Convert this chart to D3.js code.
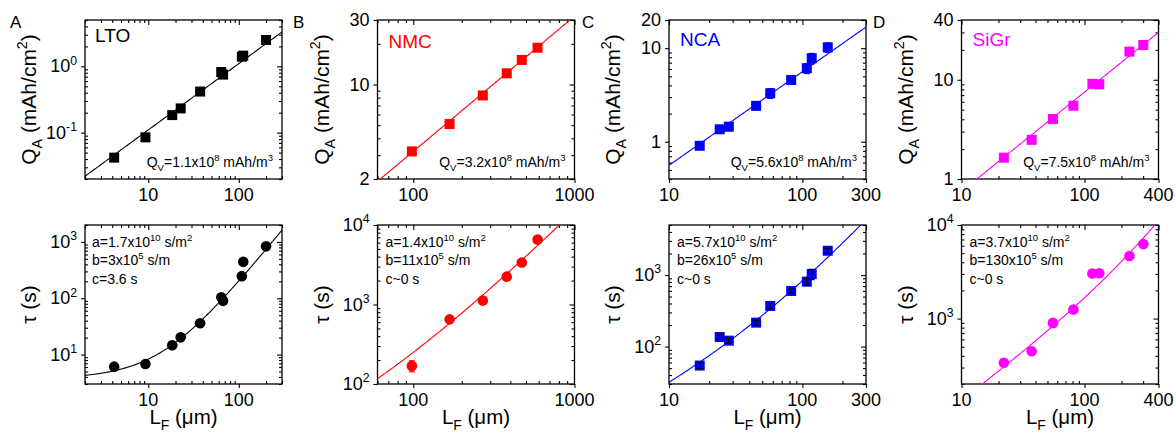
<!DOCTYPE html>
<html>
<head>
<meta charset="utf-8">
<script src="https://cdn.jsdelivr.net/npm/d3@7"></script>
<style>
  body { margin: 0; background: #fff; }
  svg { display: block; }
  text { font-family: "Liberation Sans", Arial, sans-serif; fill: #000; }
</style>
</head>
<body>
<svg id="chart" width="1176" height="434"></svg>
<script>
// ---- data ----
const materials = ["LTO", "NMC", "NCA", "SiGr"];
const letters = ["A", "B", "C", "D"];
const colors = ["#000000", "#ff0000", "#0000ff", "#ff00ff"];

// electrode thickness L_F (um)
const ltoL = [4.2, 9.3, 18.4, 22.8, 37.4, 64, 67, 108, 112, 200];
const nmcL = [98, 168, 270, 380, 471, 590];
const ncaL = [17, 24, 28.1, 45, 57.4, 82.4, 108, 117.5, 155];
const sigrL = [22.1, 37.2, 55.4, 81.3, 116, 132, 232, 301];

// areal capacity Q_A (mAh/cm2)
const ltoQ = [0.042, 0.085, 0.184, 0.232, 0.417, 0.82, 0.75, 1.40, 1.45, 2.5];
const nmcQ = [3.2, 5.1, 8.3, 12.1, 15.2, 18.7];
const ncaQ = [0.906, 1.36, 1.45, 2.42, 3.3, 4.57, 6.1, 7.8, 10.2];
const ncaQErr = [0.08, 0.13, 0.14, 0.22, 0.4, 0.45, 0.75, 1.0, 1.2];
const sigrQ = [1.64, 2.48, 4.02, 5.47, 9.1, 9.0, 19.2, 22.4];

// time constant tau (s)
const ltoTau = [6.1, 6.8, 14.6, 20.2, 36, 104, 90, 247, 443, 835];
const nmcTau = [169, 650, 1120, 2240, 3380, 6550];
const nmcTauErr = [27, 0, 0, 0, 0, 0];
const ncaTau = [54.3, 136, 121, 216, 370, 599, 807, 1032, 2183];
const ncaTauErr = [5, 10, 9, 17, 30, 40, 90, 170, 180];
const sigrTau = [337, 447, 899, 1248, 3035, 3050, 4660, 6250];

// fit parameters printed on the panels
const qvFit = [1.1e8, 3.2e8, 5.6e8, 7.5e8];      // mAh/m3
const aFit = [1.7e10, 1.4e10, 5.7e10, 3.7e10];   // s/m2
const bFit = [3e5, 11e5, 26e5, 130e5];           // s/m
const cFit = [3.6, 0, 0, 0];                     // s
const qvText = ["1.1", "3.2", "5.6", "7.5"];
const aText = ["1.7", "1.4", "5.7", "3.7"];
const bText = ["3", "11", "26", "130"];
const cText = ["c=3.6 s", "c~0 s", "c~0 s", "c~0 s"];

// axes
const xDomains = [[2, 300], [60, 1000], [10, 300], [10, 400]];
const qDomains = [[0.02, 5], [2, 30], [0.4, 20], [1, 40]];
const tauDomains = [[3, 2000], [100, 10000], [30, 5000], [200, 10000]];
const xTicks = [[10, 100], [100, 1000], [10, 100, 300], [10, 100, 400]];
const xTickLabels = [["10", "100"], ["100", "1000"], ["10", "100", "300"], ["10", "100", "400"]];
const qTicks = [[0.1, 1], [2, 10, 30], [1, 10, 20], [1, 10, 40]];
const qTickLabels = [["10^{-1}", "10^{0}"], ["2", "10", "30"], ["1", "10", "20"], ["1", "10", "40"]];
const tauTicks = [[10, 100, 1000], [100, 1000, 10000], [100, 1000], [1000, 10000]];
const tauTickLabels = [["10^{1}", "10^{2}", "10^{3}"], ["10^{2}", "10^{3}", "10^{4}"], ["10^{2}", "10^{3}"], ["10^{3}", "10^{4}"]];

// ---- layout ----
const plotLeft = [85, 377.5, 669, 961.5];
const plotW = 197;
const rowTop = [20, 225];
const plotH = 159;
const letterX = [10, 293, 582, 873];
const nameDy = [22, 28, 26, 26];

const svg = d3.select("#chart");

// tiny markup: _{sub} and ^{sup}
function rich(sel, str, size) {
  const parts = str.match(/_\{[^}]*\}|\^\{[^}]*\}|[^_^]+/g);
  let shift = 0;
  parts.forEach(p => {
    let mode = "", t = p;
    if (p[0] === "_") { mode = "sub"; t = p.slice(2, -1); }
    if (p[0] === "^") { mode = "sup"; t = p.slice(2, -1); }
    const target = mode === "sup" ? -0.42 * size : mode === "sub" ? 0.3 * size : 0;
    sel.append("tspan")
      .attr("dy", target - shift)
      .attr("font-size", mode ? size * 0.68 : size)
      .text(t);
    shift = target;
  });
}

function logTicks(domain) {
  const [lo, hi] = domain, out = [];
  for (let k = Math.floor(Math.log10(lo)); k <= Math.ceil(Math.log10(hi)); k++) {
    for (let m = 1; m < 10; m++) {
      const v = m * Math.pow(10, k);
      if (v >= lo * 0.999 && v <= hi * 1.001) out.push(v);
    }
  }
  return out;
}

function isMajor(v, labelled) {
  const l = Math.log10(v);
  return Math.abs(l - Math.round(l)) < 1e-6 || labelled.some(t => Math.abs(t - v) < 1e-9);
}

let clipId = 0;
function panel(i, row, cfg) {
  const left = plotLeft[i], top = rowTop[row];
  const g = svg.append("g").attr("transform", `translate(${left},${top})`);
  const x = d3.scaleLog().domain(cfg.xDomain).range([0, plotW]);
  const y = d3.scaleLog().domain(cfg.yDomain).range([plotH, 0]);

  const xAll = logTicks(cfg.xDomain), yAll = logTicks(cfg.yDomain);
  const xMaj = xAll.filter(v => isMajor(v, cfg.xTicks));
  const xMin = xAll.filter(v => !isMajor(v, cfg.xTicks));
  const yMaj = yAll.filter(v => isMajor(v, cfg.yTicks));
  const yMin = yAll.filter(v => !isMajor(v, cfg.yTicks));

  const axisStyle = s => {
    s.select(".domain").remove();
    s.selectAll(".tick line").attr("stroke", "#000").attr("stroke-width", 1.1);
    s.selectAll(".tick text").remove();
  };
  // bottom / left: major out, minor in
  g.append("g").attr("transform", `translate(0,${plotH})`)
    .call(d3.axisBottom(x).tickValues(xMaj).tickSize(4)).call(axisStyle);
  g.append("g").attr("transform", `translate(0,${plotH})`)
    .call(d3.axisBottom(x).tickValues(xMin).tickSize(-3)).call(axisStyle);
  g.append("g").call(d3.axisLeft(y).tickValues(yMaj).tickSize(4)).call(axisStyle);
  g.append("g").call(d3.axisLeft(y).tickValues(yMin).tickSize(-3)).call(axisStyle);
  // top / right mirrors: all inward
  g.append("g").call(d3.axisTop(x).tickValues(xMaj).tickSize(-5)).call(axisStyle);
  g.append("g").call(d3.axisTop(x).tickValues(xMin).tickSize(-3)).call(axisStyle);
  g.append("g").attr("transform", `translate(${plotW},0)`)
    .call(d3.axisRight(y).tickValues(yMaj).tickSize(-5)).call(axisStyle);
  g.append("g").attr("transform", `translate(${plotW},0)`)
    .call(d3.axisRight(y).tickValues(yMin).tickSize(-3)).call(axisStyle);

  g.append("rect").attr("width", plotW).attr("height", plotH)
    .attr("fill", "none").attr("stroke", "#000").attr("stroke-width", 1.3);

  // tick labels
  cfg.xTicks.forEach((v, k) => {
    g.append("text").attr("x", x(v)).attr("y", plotH + 22)
      .attr("text-anchor", "middle").attr("font-size", 18).text(cfg.xLabels[k]);
  });
  cfg.yTicks.forEach((v, k) => {
    const t = g.append("text").attr("x", -8).attr("y", y(v) + 6).attr("text-anchor", "end");
    rich(t, cfg.yLabels[k], 18);
  });

  // axis titles
  const yt = g.append("text").attr("text-anchor", "middle")
    .attr("transform", `translate(${-49},${plotH / 2}) rotate(-90)`);
  rich(yt, cfg.yTitle, 21);
  if (cfg.xTitle) {
    const xt = g.append("text").attr("text-anchor", "middle")
      .attr("x", plotW / 2).attr("y", plotH + 40);
    rich(xt, cfg.xTitle, 20.5);
  }

  // fit curve, clipped to the frame
  const cid = "clip" + (clipId++);
  g.append("clipPath").attr("id", cid).append("rect").attr("width", plotW).attr("height", plotH);
  const [lo, hi] = cfg.xDomain;
  const Ls = d3.range(201).map(k => lo * Math.pow(hi / lo, k / 200));
  g.append("path")
    .attr("clip-path", `url(#${cid})`)
    .attr("d", d3.line().x(L => x(L)).y(L => y(Math.max(cfg.fit(L), 1e-6)))(Ls))
    .attr("fill", "none").attr("stroke", cfg.color).attr("stroke-width", 1.1);

  // points
  const pts = cfg.xs.map((v, k) => ({ x: v, y: cfg.ys[k], e: cfg.err ? cfg.err[k] : 0 }));
  const drawErr = () => {
    pts.filter(p => p.e > 0).forEach(p => {
      const px = x(p.x), y1 = y(p.y + p.e), y2 = y(Math.max(p.y - p.e, 1e-6));
      g.append("line").attr("x1", px).attr("x2", px).attr("y1", y1).attr("y2", y2)
        .attr("stroke", cfg.errColor).attr("stroke-width", 1.1);
      [y1, y2].forEach(yy => g.append("line").attr("x1", px - 3).attr("x2", px + 3)
        .attr("y1", yy).attr("y2", yy).attr("stroke", cfg.errColor).attr("stroke-width", 1.1));
    });
  };
  if (!cfg.errOnTop) drawErr();
  if (cfg.marker === "square") {
    g.selectAll("rect.pt").data(pts).enter().append("rect").attr("class", "pt")
      .attr("x", p => x(p.x) - 5).attr("y", p => y(p.y) - 5)
      .attr("width", 10).attr("height", 10).attr("fill", cfg.color);
  } else {
    g.selectAll("circle.pt").data(pts).enter().append("circle").attr("class", "pt")
      .attr("cx", p => x(p.x)).attr("cy", p => y(p.y)).attr("r", 5.3).attr("fill", cfg.color);
  }
  if (cfg.errOnTop) drawErr();
  return g;
}

const Ls = [ltoL, nmcL, ncaL, sigrL];
const Qs = [ltoQ, nmcQ, ncaQ, sigrQ];
const Taus = [ltoTau, nmcTau, ncaTau, sigrTau];
const QErr = [null, null, ncaQErr, null];
const TauErr = [null, nmcTauErr, ncaTauErr, null];
const TauErrColor = ["#000", "#ff0000", "#000", "#000"];

for (let i = 0; i < 4; i++) {
  // top row: Q_A vs L_F, line Q_A = Q_V * L
  const gTop = panel(i, 0, {
    xDomain: xDomains[i], yDomain: qDomains[i],
    xTicks: xTicks[i], xLabels: xTickLabels[i],
    yTicks: qTicks[i], yLabels: qTickLabels[i],
    yTitle: "Q_{A} (mAh/cm^{2})", xTitle: null,
    color: colors[i], marker: "square",
    xs: Ls[i], ys: Qs[i], err: QErr[i], errColor: colors[i], errOnTop: false,
    fit: L => qvFit[i] * L * 1e-6 / 1e4
  });
  gTop.append("text").attr("x", i === 0 ? 10 : 11).attr("y", nameDy[i])
    .attr("font-size", 19).style("fill", colors[i]).text(materials[i]);
  const qv = gTop.append("text").attr("x", plotW - 9).attr("y", plotH - 12)
    .attr("text-anchor", "end");
  rich(qv, `Q_{V}=${qvText[i]}x10^{8} mAh/m^{3}`, 14);

  // bottom row: tau vs L_F, tau = aL^2 + bL + c
  const gBot = panel(i, 1, {
    xDomain: xDomains[i], yDomain: tauDomains[i],
    xTicks: xTicks[i], xLabels: xTickLabels[i],
    yTicks: tauTicks[i], yLabels: tauTickLabels[i],
    yTitle: "τ (s)", xTitle: "L_{F} (μm)",
    color: colors[i], marker: i === 2 ? "square" : "circle",
    xs: Ls[i], ys: Taus[i], err: TauErr[i], errColor: TauErrColor[i], errOnTop: i === 2,
    fit: L => aFit[i] * (L * 1e-6) ** 2 + bFit[i] * (L * 1e-6) + cFit[i]
  });
  const lines = [`a=${aText[i]}x10^{10} s/m^{2}`, `b=${bText[i]}x10^{5} s/m`, cText[i]];
  lines.forEach((s, k) => {
    const t = gBot.append("text").attr("x", i === 0 ? 7 : 8).attr("y", 22 + k * 18.3);
    rich(t, s, 14);
  });

  svg.append("text").attr("x", letterX[i]).attr("y", 28)
    .attr("font-size", 17).text(letters[i]);
}
</script>
</body>
</html>
